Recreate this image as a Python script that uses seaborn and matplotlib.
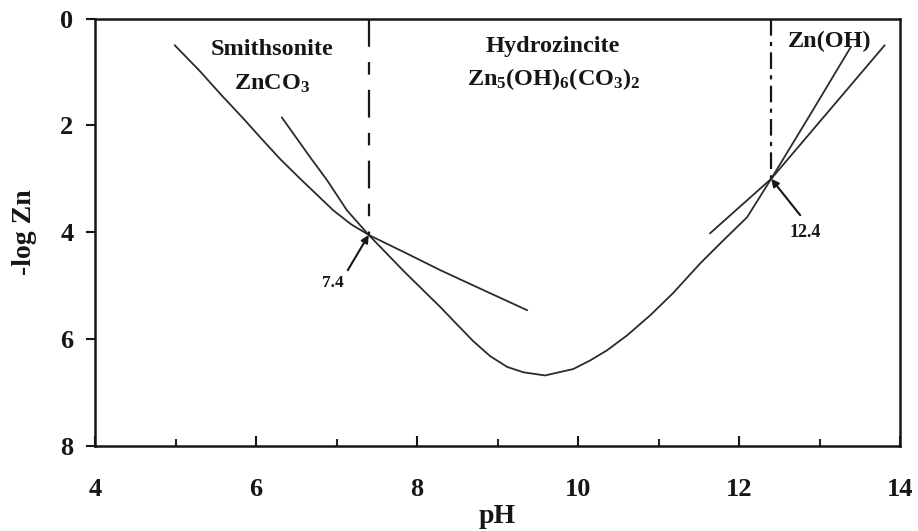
import matplotlib
matplotlib.use("Agg")
import matplotlib.pyplot as plt
import numpy as np
import pandas as pd
import seaborn as sns

# pH / -log Zn data for the three solid phases
smith_ph = [4.99, 5.30, 5.55, 5.86, 6.05, 6.30, 6.55, 6.96, 7.18, 7.40, 7.85, 8.29, 8.85, 9.37]
smith_logzn = [0.50, 0.98, 1.40, 1.90, 2.22, 2.63, 3.00, 3.59, 3.85, 4.05, 4.38, 4.71, 5.10, 5.46]

hydro_ph = [6.32, 6.67, 6.88, 7.13, 7.40, 7.85, 8.29, 8.50, 8.70, 8.91, 9.12, 9.32,
            9.59, 9.94, 10.15, 10.36, 10.61, 10.90, 11.18, 11.52, 11.80, 12.10,
            12.40, 12.90, 13.39]
hydro_logzn = [1.85, 2.59, 3.02, 3.59, 4.05, 4.75, 5.40, 5.73, 6.04, 6.32, 6.52, 6.62,
               6.68, 6.56, 6.40, 6.21, 5.93, 5.55, 5.14, 4.58, 4.16, 3.72,
               3.00, 1.76, 0.53]

znoh_ph = [11.64, 12.40, 13.81]
znoh_logzn = [4.02, 3.00, 0.50]

# phase boundaries (pH, -log Zn at the intersection)
boundary_ph = [7.4, 12.4]
boundary_logzn = [4.05, 3.00]

x_ticks = [4, 6, 8, 10, 12, 14]
y_ticks = [0, 2, 4, 6, 8]

sns.set_theme(style="white")
plt.rcParams["font.family"] = ["Liberation Serif", "DejaVu Serif"]
plt.rcParams["font.weight"] = "bold"
plt.rcParams["mathtext.fontset"] = "custom"
plt.rcParams["mathtext.rm"] = "Liberation Serif:bold"
plt.rcParams["mathtext.it"] = "Liberation Serif:bold"
plt.rcParams["mathtext.bf"] = "Liberation Serif:bold"
plt.rcParams["mathtext.default"] = "rm"
plt.rcParams["lines.scale_dashes"] = False

ink = "#161616"
line_col = "#2b2b2b"

fig = plt.figure(figsize=(9.18, 5.31), dpi=100)
ax = fig.add_axes([95 / 918, 1 - 446 / 531, 805 / 918, 427.5 / 531])

curves = pd.concat([
    pd.DataFrame({"pH": smith_ph, "logzn": smith_logzn, "phase": "smithsonite"}),
    pd.DataFrame({"pH": hydro_ph, "logzn": hydro_logzn, "phase": "hydrozincite"}),
    pd.DataFrame({"pH": znoh_ph, "logzn": znoh_logzn, "phase": "zincite"}),
])
for phase, sub in curves.groupby("phase", sort=False):
    sns.lineplot(data=sub, x="pH", y="logzn", ax=ax, sort=False,
                 estimator=None, color=line_col, lw=1.3, legend=False)
for ln in ax.lines:
    ln.set_solid_joinstyle("round")

# vertical phase boundaries
ax.plot([boundary_ph[0]] * 2, [0, boundary_logzn[0]], color=ink, lw=1.6,
        linestyle=(0, (20, 11, 9, 11)))
ax.plot([boundary_ph[1]] * 2, [0, boundary_logzn[1]], color=ink, lw=1.6,
        linestyle=(0, (12, 4.5, 3, 4.5)))

arrow = dict(arrowstyle="-|>", color=ink, lw=1.5, mutation_scale=11,
             shrinkA=0, shrinkB=0)
ax.annotate("", xy=(boundary_ph[0], boundary_logzn[0]), xytext=(7.14, 4.71),
            arrowprops=arrow)
ax.text(6.96, 4.95, f"{boundary_ph[0]:.1f}", fontsize=12.5, ha="center",
        va="center", color=ink)
ax.annotate("", xy=(boundary_ph[1], boundary_logzn[1]), xytext=(12.76, 3.68),
            arrowprops=arrow)
ax.text(12.82, 4.0, f"{boundary_ph[1]:.1f}", fontsize=13, ha="center",
        va="center", color=ink)

# phase labels
tkw = dict(fontsize=17.5, ha="center", va="baseline", color=ink)
ax.text(6.20, 0.68, "Smithsonite", **tkw)
ax.text(6.20, 1.34, r"ZnCO$_3$", **tkw)
ax.text(9.68, 0.63, "Hydrozincite", **tkw)
ax.text(9.70, 1.245, r"Zn$_5$(OH)$_6$(CO$_3$)$_2$", **tkw)
ax.text(13.13, 0.53, "Zn(OH)", **tkw)

ax.set_xlim(4, 14)
ax.set_ylim(8, 0)
ax.set_xticks(x_ticks)
ax.set_xticks([5, 7, 9, 11, 13], minor=True)
ax.set_yticks(y_ticks)
ax.set_xticklabels([str(v) for v in x_ticks])
ax.set_yticklabels([str(v) for v in y_ticks])

ax.tick_params(axis="x", which="major", direction="in", length=7, width=1.5,
               pad=23, labelsize=19, colors=ink, bottom=True)
ax.tick_params(axis="x", which="minor", direction="in", length=5, width=1.5,
               bottom=True)
ax.tick_params(axis="y", direction="out", length=6.5, width=1.5, pad=9,
               labelsize=19, colors=ink, left=True)

ax.set_xlabel("pH", fontsize=20, fontweight="bold", color=ink, labelpad=2)
ax.set_ylabel("-log Zn", fontsize=20, fontweight="bold", color=ink, labelpad=17)

for s in ax.spines.values():
    s.set_visible(True)
    s.set_color(ink)
    s.set_linewidth(1.8)

fig.savefig("out.png", dpi=100)
